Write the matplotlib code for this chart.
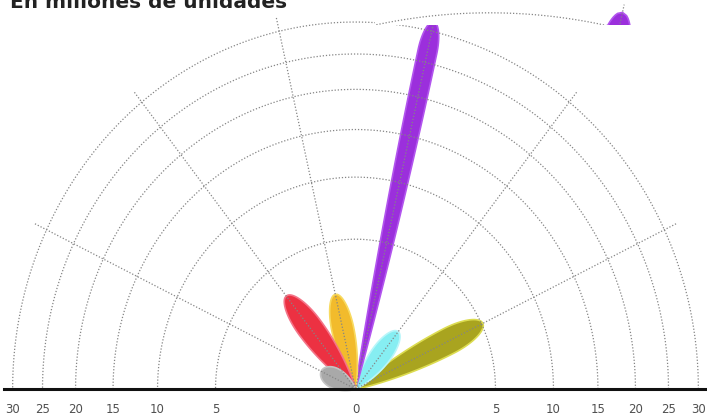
import numpy as np
from matplotlib import pyplot as plt
from matplotlib.patches import Polygon

# values along each spoke (millions of units), from right to left
valores = [5.1, 1.2, 31.6, 2.1, 3.15, 0.37]
colores = ["#a9a41f", "#86eef2", "#9b2fdc", "#f2bb2c", "#ec3142", "#a9a9a9"]
bordes = ["#dcdc50", "#b8f6fa", "#b255ee", "#f8da60", "#f47488", "#c4c4c4"]
anchos = [25, 20, 19, 22, 25, 19]  # petal width, px

anillos = [5, 10, 15, 20, 25, 30]
etiquetas = [30, 25, 20, 15, 10, 5, 0, 5, 10, 15, 20, 25, 30]
posiciones = [-30, -25, -20, -15, -10, -5, 0, 5, 10, 15, 20, 25, 30]

n_sectores = 7
px = 62.6  # pixels per sqrt-unit


def petalo(ang, largo, ancho):
    s = np.linspace(0, largo, 300)
    cap_len = min(1.5 * ancho, 0.38 * largo)
    s0 = largo - cap_len
    taper = np.sin(np.pi / 2 * np.clip(s / s0, 0, 1)) ** 0.8
    cap = np.where(s > s0, np.sqrt(np.clip(1 - ((s - s0) / cap_len) ** 2, 0, 1)), 1.0)
    h = ancho / 2 * taper * cap
    xs = np.concatenate([s, s[::-1]])
    ys = np.concatenate([h, -h[::-1]])
    c, d = np.cos(ang), np.sin(ang)
    return np.column_stack([xs * c - ys * d, xs * d + ys * c])


def dibujar(ax):
    angulos = np.arange(1, n_sectores) * np.pi / n_sectores
    for ang, v, col, bor, w in zip(angulos, valores, colores, bordes, anchos):
        ax.add_patch(Polygon(petalo(ang, np.sqrt(v), w / px), closed=True,
                             facecolor=col, edgecolor=bor, lw=1.2, zorder=2))
    th = np.linspace(0, np.pi, 400)
    for r in anillos:
        ax.plot(np.sqrt(r) * np.cos(th), np.sqrt(r) * np.sin(th),
                ls=(0, (1, 1.5)), color="#858585", lw=0.9, zorder=3)
    rmax = np.sqrt(32.4)
    for ang in angulos:
        ax.plot([0, rmax * np.cos(ang)], [0, rmax * np.sin(ang)],
                ls=(0, (1, 1.5)), color="#858585", lw=0.9, zorder=3)


fig = plt.figure(figsize=(7.07, 4.17), dpi=100)
ax = fig.add_axes([0, 0, 1, 1])
dibujar(ax)

ax.axhline(0, xmin=0.006, color="#111111", lw=2.2, zorder=4)
for p, e in zip(posiciones, etiquetas):
    ax.text(np.sign(p) * np.sqrt(abs(p)), -0.31, str(e), ha="center", va="center",
            fontsize=8.5, color="#505050")

ax.set_xlim(-355.5 / px, (707 - 355.5) / px)
ax.set_ylim(-28 / 67.0, 389 / 67.0)
ax.axis("off")

# misplaced fragment at the top right
ins = fig.add_axes([375 / 707, (417 - 25) / 417, 275 / 707, 25 / 417])
ins.set_facecolor("white")
dibujar(ins)
ins.set_xlim(-1.08, 1.51)
ins.set_ylim(5.37, 5.59)
ins.set_xticks([])
ins.set_yticks([])
for sp in ins.spines.values():
    sp.set_visible(False)

fig.text(10 / 707, 1 - 8 / 417, "En millones de unidades", fontsize=14.5,
         fontweight="bold", color="#222222", va="baseline", ha="left")

fig.savefig("out.png", dpi=100)
